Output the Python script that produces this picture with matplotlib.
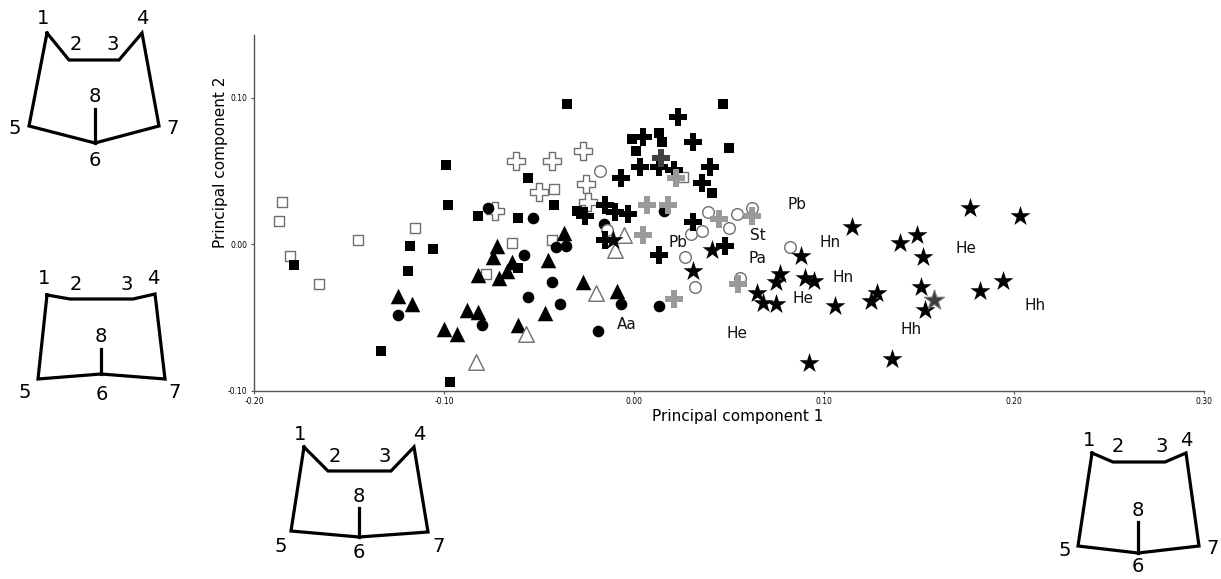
import matplotlib.pyplot as plt
import numpy as np

# PCA scores, one pair of lists per marker group
sq_filled_x = [-0.035, -0.099, -0.098, -0.056, -0.042, -0.001, 0.001, 0.013, 0.015, 0.047, 0.050,
               0.041, -0.082, -0.061, -0.030, -0.118, -0.106, -0.119, -0.061, -0.179, -0.133, -0.097]
sq_filled_y = [0.096, 0.054, 0.027, 0.045, 0.027, 0.072, 0.064, 0.076, 0.070, 0.096, 0.066,
               0.035, 0.019, 0.018, 0.023, -0.001, -0.003, -0.018, -0.016, -0.014, -0.073, -0.094]

sq_open_x = [-0.185, -0.187, -0.115, -0.145, -0.181, -0.166, -0.064, -0.043, -0.078, -0.042, 0.026]
sq_open_y = [0.029, 0.016, 0.011, 0.003, -0.008, -0.027, 0.001, 0.003, -0.020, 0.038, 0.046]

cross_open_x = [-0.062, -0.043, -0.027, -0.025, -0.050, -0.073, -0.024]
cross_open_y = [0.057, 0.057, 0.064, 0.041, 0.036, 0.023, 0.029]

circ_filled_x = [-0.077, -0.053, -0.016, 0.016, -0.041, -0.036, -0.058, -0.043, -0.056, -0.039,
                 -0.124, -0.080, -0.019, -0.007, 0.013]
circ_filled_y = [0.025, 0.018, 0.014, 0.023, -0.002, -0.001, -0.007, -0.026, -0.036, -0.041,
                 -0.048, -0.055, -0.059, -0.041, -0.042]

tri_filled_x = [-0.037, -0.072, -0.074, -0.064, -0.067, -0.071, -0.082, -0.045, -0.124, -0.117,
                -0.088, -0.082, -0.100, -0.093, -0.061, -0.047, -0.027, -0.009]
tri_filled_y = [0.008, -0.001, -0.009, -0.012, -0.018, -0.023, -0.021, -0.011, -0.035, -0.041,
                -0.045, -0.046, -0.058, -0.061, -0.055, -0.047, -0.026, -0.032]

tri_open_x = [-0.005, -0.010, -0.020, -0.057, -0.083]
tri_open_y = [0.006, -0.004, -0.033, -0.061, -0.080]

circ_open_x = [-0.018, -0.014, 0.030, 0.036, 0.039, 0.027, 0.032, 0.054, 0.062, 0.050, 0.082, 0.056]
circ_open_y = [0.050, 0.010, 0.007, 0.009, 0.022, -0.009, -0.029, 0.021, 0.025, 0.011, -0.002, -0.023]

cross_black_x = [0.023, 0.005, 0.031, 0.003, 0.013, 0.021, 0.040, 0.036, -0.007, -0.026,
                 -0.015, -0.010, -0.003, -0.015, 0.031, 0.013, 0.048]
cross_black_y = [0.087, 0.073, 0.070, 0.053, 0.053, 0.051, 0.053, 0.042, 0.045, 0.019,
                 0.027, 0.022, 0.021, 0.003, 0.015, -0.007, -0.001]

cross_dark_x = [0.014]
cross_dark_y = [0.059]

cross_grey_x = [0.007, 0.018, 0.005, 0.022, 0.021, 0.045, 0.062, 0.055]
cross_grey_y = [0.027, 0.027, 0.006, 0.045, -0.037, 0.017, 0.019, -0.027]

star_x = [-0.011, 0.041, 0.031, 0.077, 0.075, 0.065, 0.068, 0.075, 0.088, 0.090, 0.095,
          0.115, 0.106, 0.125, 0.128, 0.140, 0.149, 0.152, 0.151, 0.153, 0.177, 0.203,
          0.182, 0.194, 0.092, 0.136]
star_y = [0.003, -0.004, -0.018, -0.020, -0.026, -0.033, -0.040, -0.041, -0.008, -0.023, -0.025,
          0.012, -0.042, -0.039, -0.033, 0.001, 0.006, -0.009, -0.029, -0.045, 0.025, 0.019,
          -0.032, -0.025, -0.081, -0.078]

star_dark_x = [0.158]
star_dark_y = [-0.038]

# taxon labels placed in the score space
lab_text = ["Aa", "Pb", "Pb", "St", "Pa", "He", "He", "Hn", "Hn", "He", "Hh", "Hh"]
lab_x = [-0.004, 0.023, 0.086, 0.065, 0.065, 0.089, 0.054, 0.103, 0.110, 0.175, 0.211, 0.146]
lab_y = [-0.055, 0.001, 0.027, 0.006, -0.010, -0.037, -0.061, 0.001, -0.023, -0.003, -0.042, -0.058]

x_ticks = [-0.20, -0.10, 0.00, 0.10, 0.20, 0.30]
y_ticks = [-0.10, 0.00, 0.10]

# outline drawings of the landmarks (figure pixel coords), order 1-2-3-4-7-6-5-1, stem 6-8
shapes = [
    {"outline": [(47, 33), (69, 60), (119, 60), (142, 33), (159, 126), (95, 143), (29, 126)],
     "stem": [(95, 143), (95, 109)],
     "labels": [(43, 18), (76, 45), (113, 45), (142, 18), (15, 129), (95, 160), (173, 128), (95, 97)]},
    {"outline": [(47, 295), (70, 299), (133, 299), (155, 294), (165, 379), (101, 374), (38, 379)],
     "stem": [(101, 374), (101, 349)],
     "labels": [(44, 278), (76, 285), (127, 285), (153, 278), (25, 392), (102, 395), (175, 392), (101, 336)]},
    {"outline": [(304, 447), (328, 471), (391, 471), (414, 447), (428, 532), (359, 537), (291, 531)],
     "stem": [(359, 537), (359, 508)],
     "labels": [(300, 434), (335, 457), (385, 457), (419, 434), (281, 547), (359, 553), (439, 547), (359, 497)]},
    {"outline": [(1092, 453), (1113, 462), (1165, 462), (1186, 453), (1199, 546), (1138, 553), (1078, 546)],
     "stem": [(1138, 553), (1138, 522)],
     "labels": [(1089, 440), (1118, 447), (1162, 447), (1186, 441), (1065, 550), (1138, 567), (1213, 548), (1138, 511)]},
]
shape_nums = ["1", "2", "3", "4", "5", "6", "7", "8"]

plt.rcParams['font.family'] = ['DejaVu Sans']

fig = plt.figure(figsize=(12.21, 5.79), dpi=100)
ax = fig.add_axes([0.208, 0.325, 0.778, 0.615])
ax.set_facecolor('none')

edge_grey = '#6e6e6e'
ax.scatter(sq_open_x, sq_open_y, marker='s', s=62, facecolors='white', edgecolors=edge_grey, linewidths=1.0, zorder=2)
ax.scatter(sq_filled_x, sq_filled_y, marker='s', s=62, c='black', linewidths=0, zorder=3)
ax.scatter(cross_open_x, cross_open_y, marker='P', s=150, facecolors='white', edgecolors=edge_grey, linewidths=1.0, zorder=3)
ax.scatter(circ_filled_x, circ_filled_y, marker='o', s=70, c='black', linewidths=0, zorder=3)
ax.scatter(tri_filled_x, tri_filled_y, marker='^', s=125, c='black', linewidths=0, zorder=3)
ax.scatter(tri_open_x, tri_open_y, marker='^', s=125, facecolors='white', edgecolors=edge_grey, linewidths=1.0, zorder=4)
ax.scatter(circ_open_x, circ_open_y, marker='o', s=70, facecolors='white', edgecolors=edge_grey, linewidths=1.0, zorder=4)
ax.scatter(cross_black_x, cross_black_y, marker='P', s=165, c='black', linewidths=0, zorder=5)
ax.scatter(cross_dark_x, cross_dark_y, marker='P', s=165, c='#404040', linewidths=0, zorder=5)
ax.scatter(cross_grey_x, cross_grey_y, marker='P', s=165, c='#9a9a9a', linewidths=0, zorder=5)
ax.scatter(star_x, star_y, marker='*', s=230, c='black', linewidths=0, zorder=6)
ax.scatter(star_dark_x, star_dark_y, marker='*', s=230, c='#3c3c3c', edgecolors='#777777', linewidths=0.8, zorder=6)

for t, x, y in zip(lab_text, lab_x, lab_y):
    ax.text(x, y, t, fontsize=11, ha='center', va='center', color='#111111', zorder=7)

ax.set_xlim(-0.20, 0.30)
ax.set_ylim(-0.10, 0.143)
ax.set_xticks(x_ticks)
ax.set_yticks(y_ticks)
ax.set_xticklabels([f"{v:.2f}" for v in x_ticks])
ax.set_yticklabels([f"{v:.2f}" for v in y_ticks])
ax.tick_params(labelsize=5.5, length=2.5, width=0.8, color='#555555', pad=2)
for side in ['top', 'right']:
    ax.spines[side].set_visible(False)
for side in ['left', 'bottom']:
    ax.spines[side].set_color('#555555')
    ax.spines[side].set_linewidth(1.0)

ax.set_xlabel("Principal component 1", fontsize=11, labelpad=6)
ax.xaxis.set_label_coords(0.509, -0.05)
fig.text(220 / 1221, 1 - 162 / 579, "Principal component 2", fontsize=11, rotation=90,
         ha='center', va='center')

# overlay for the shape drawings, in pixel coords
ov = fig.add_axes([0, 0, 1, 1], zorder=-1)
ov.set_xlim(0, 1221)
ov.set_ylim(579, 0)
ov.axis('off')
for shp in shapes:
    pts = np.array(shp["outline"] + [shp["outline"][0]])
    ov.plot(pts[:, 0], pts[:, 1], color='black', lw=2.3, solid_joinstyle='miter')
    st = np.array(shp["stem"])
    ov.plot(st[:, 0], st[:, 1], color='black', lw=2.3)
    for num, (lx, ly) in zip(shape_nums, shp["labels"]):
        ov.text(lx, ly, num, fontsize=14, ha='center', va='center')

fig.savefig("out.png", dpi=100)
